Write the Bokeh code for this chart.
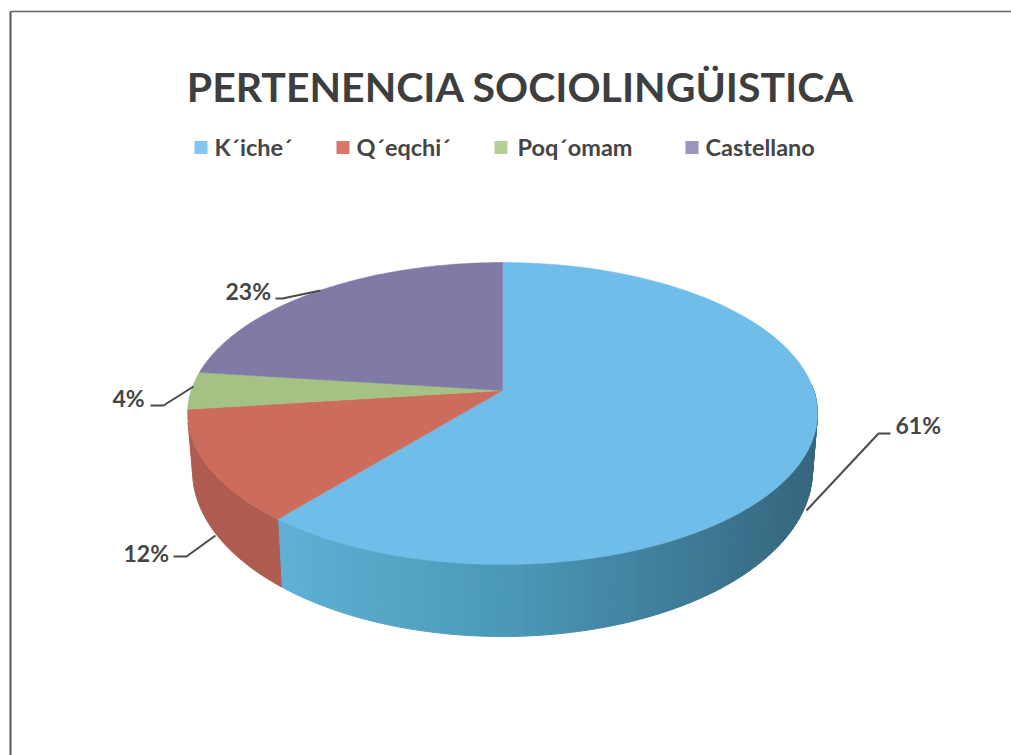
import numpy as np
from bokeh.plotting import figure
from bokeh.models import Range1d
from bokeh.core.properties import value
from bokeh.embed import file_html
from bokeh.resources import INLINE

TITLE = "PERTENENCIA SOCIOLINGÜISTICA"
categories = ["K´iche´", "Q´eqchi´", "Poq´omam", "Castellano"]
shares = [61, 12, 4, 23]
labels = ["61%", "12%", "4%", "23%"]

top_colors = ["#6FBDE8", "#CC6C5C", "#A3C284", "#7F7BA6"]
legend_colors = ["#84C6F0", "#D8776A", "#B2D094", "#9A94BE"]

INK = "#454545"
FONT = value("Lato")
# geometry of the tilted disc (page pixels)
CX, APEX_Y = 502, 390
TOP_CY, TOP_RX, TOP_RY = 413, 315, 151
BOT_CY, BOT_RX, BOT_RY = 470, 310, 166

p = figure(width=1011, height=755, output_backend="svg", toolbar_location=None,
           x_range=Range1d(0, 1011), y_range=Range1d(755, 0),
           min_border=0, x_axis_location=None, y_axis_location=None,
           background_fill_color="#FFFFFF", border_fill_color="#FFFFFF",
           outline_line_color=None)
p.grid.visible = False


def persp(frac):
    """Fraction of the pie -> clockwise angle from the top on the tilted ellipse."""
    py = (TOP_CY - APEX_Y) / TOP_RY
    a = py / (1 + np.sqrt(1 - py * py))
    z = np.exp(1j * (np.pi / 2 - 2 * np.pi * np.asarray(frac)))
    w = (z + 1j * a) / (1 + (-1j * a) * z)
    return (np.pi / 2 - np.angle(w)) % (2 * np.pi)


def ell(t, cy, rx, ry):
    return CX + rx * np.sin(t), cy - ry * np.cos(t)


def mix(c0, c1, u):
    a = [int(c0[i:i + 2], 16) for i in (1, 3, 5)]
    b = [int(c1[i:i + 2], 16) for i in (1, 3, 5)]
    return "#%02X%02X%02X" % tuple(int(round(x + (y - x) * u)) for x, y in zip(a, b))


edges = np.cumsum([0] + shares) / sum(shares)

# frame
p.line([10, 10], [755, 11], line_color="#555555", line_width=2)
p.line([10, 1011], [11, 11], line_color="#666666", line_width=1.5)

# side wall, slices 0 and 1 are the ones facing the viewer
t0, t1 = np.pi * 0.44, persp(edges[1])
ts = np.linspace(t0, t1, 90)
xs, ys, cs = [], [], []
for i in range(len(ts) - 1):
    a, b = ts[i], ts[i + 1]
    xa, ya = ell(a, TOP_CY, TOP_RX, TOP_RY)
    xb, yb = ell(b, TOP_CY, TOP_RX, TOP_RY)
    xc, yc = ell(b, BOT_CY, BOT_RX, BOT_RY)
    xd, yd = ell(a, BOT_CY, BOT_RX, BOT_RY)
    xs.append([xa, xb, xc, xd]); ys.append([ya, yb, yc, yd])
    u = (xa - 284) / (810 - 284)
    cs.append(mix("#5FB0D4", "#4A97B8", u / 0.45) if u < 0.45 else mix("#4A97B8", "#36677E", (u - 0.45) / 0.55))
p.patches(xs, ys, fill_color=cs, line_color=cs, line_width=1)

ta, tb = persp(edges[1]), np.pi * 1.48
tt = np.linspace(ta, tb, 40)
x_top, y_top = ell(tt, TOP_CY, TOP_RX, TOP_RY)
x_bot, y_bot = ell(tt, BOT_CY, BOT_RX, BOT_RY)
p.patch(np.r_[x_top, x_bot[::-1]], np.r_[y_top, y_bot[::-1]], fill_color="#AE5C4F", line_color="#AE5C4F")

# top face
for i, col in enumerate(top_colors):
    t = np.linspace(persp(edges[i]), persp(edges[i + 1]) if i < len(shares) - 1 else 2 * np.pi, 160)
    if t[-1] < t[0]:
        t = np.linspace(t[0], t[-1] + 2 * np.pi, 160)
    x, y = ell(t, TOP_CY, TOP_RX, TOP_RY)
    p.patch(np.r_[CX, x], np.r_[APEX_Y, y], fill_color=col, line_color=col, line_width=0.5)

# leader lines
leaders = {"61%": ([806, 878, 890], [510, 433, 433]),
           "12%": ([173, 186, 215], [556, 556, 535]),
           "4%": ([150, 163, 193], [405, 405, 386]),
           "23%": ([275, 282, 320], [298, 298, 290])}
label_pos = {"61%": (895, 424), "12%": (123, 552), "4%": (112, 397), "23%": (225, 290)}
for lab in labels:
    lx, ly = leaders[lab]
    p.line(lx, ly, line_color="#4A4A4A", line_width=2)
    p.text([label_pos[lab][0]], [label_pos[lab][1]], text=[lab], text_font=FONT, text_font_style="bold",
           text_font_size="23px", text_color=INK, text_align="left", text_baseline="middle")

# title
p.text([520], [86], text=[TITLE], text_font=FONT, text_font_style="bold", text_font_size="41px",
       text_color="#3E3E3E", text_align="center", text_baseline="middle")

# legend
sw_x = [194, 336, 494, 685]
tx_x = [214, 356, 517, 705]
p.rect([x + 6.5 for x in sw_x], [147] * 4, width=13, height=13, fill_color=legend_colors, line_color=None)
p.text(tx_x, [146] * 4, text=categories, text_font=FONT, text_font_style="bold", text_font_size="23.5px",
       text_color=INK, text_align="left", text_baseline="middle")

open("out.html", "w").write(file_html(p, INLINE))
